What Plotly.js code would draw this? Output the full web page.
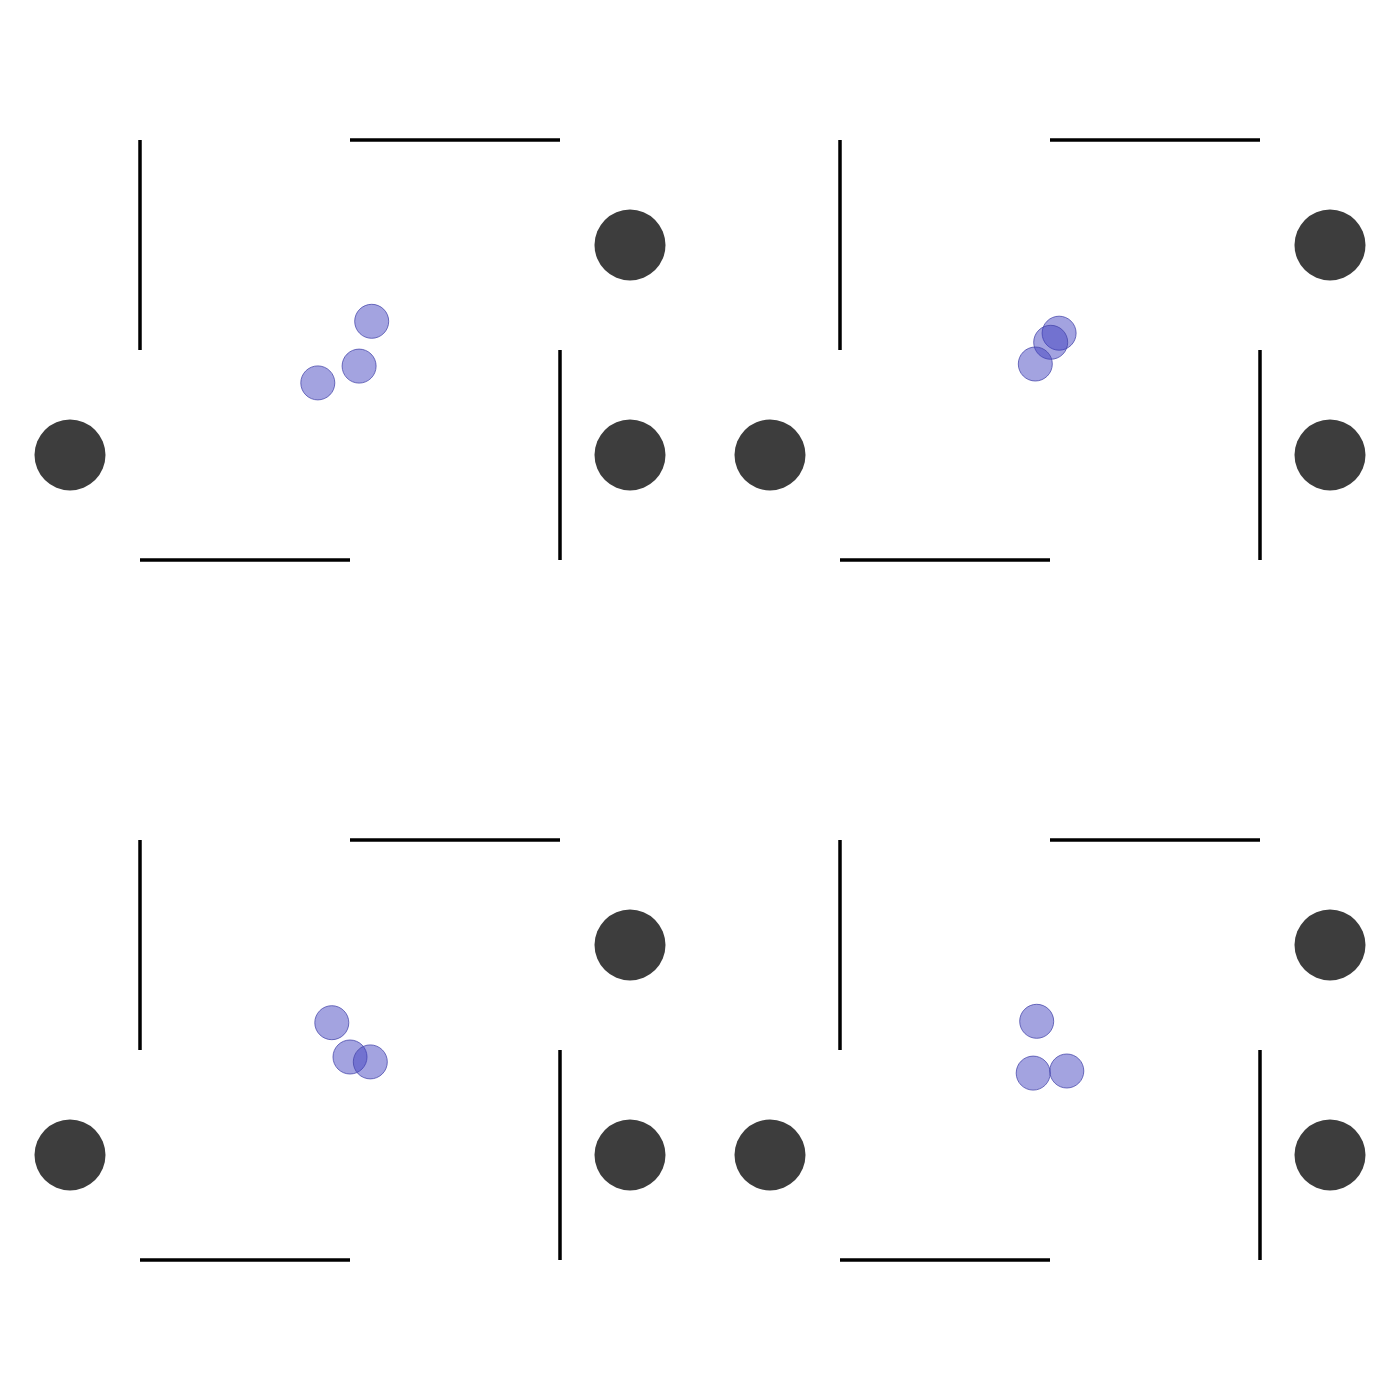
<!DOCTYPE html>
<html>
<head>
<meta charset="utf-8">
<script src="https://cdn.plot.ly/plotly-3.0.1.min.js"></script>
<style>html,body{margin:0;padding:0;background:#fff;}#chart{width:1400px;height:1400px;}</style>
</head>
<body>
<div id="chart"></div>
<script>
// Wall segments (shared by all panels): [x0, y0, x1, y1]
const wallX0 = [-3, 0, 3, -3];
const wallY0 = [3, 3, 0, -3];
const wallX1 = [-3, 3, 3, 0];
const wallY1 = [0, 3, -3, -3];

// Static obstacles (shared)
const obstacleX = [-4, 4, 4];
const obstacleY = [-1.5, -1.5, 1.5];

// Agent positions for each panel (top-left, top-right, bottom-left, bottom-right)
const agentsX_1 = [0.31, 0.13, -0.46];
const agentsY_1 = [0.41, -0.23, -0.47];
const agentsX_2 = [0.13, 0.01, -0.21];
const agentsY_2 = [0.24, 0.11, -0.20];
const agentsX_3 = [-0.26, 0.00, 0.29];
const agentsY_3 = [0.39, -0.10, -0.17];
const agentsX_4 = [-0.19, -0.24, 0.24];
const agentsY_4 = [0.41, -0.33, -0.30];

const agentsX = [agentsX_1, agentsX_2, agentsX_3, agentsX_4];
const agentsY = [agentsY_1, agentsY_2, agentsY_3, agentsY_4];

const traces = [];
const layout = {
  width: 1400, height: 1400,
  margin: {l: 0, r: 0, t: 0, b: 0},
  paper_bgcolor: '#fff', plot_bgcolor: '#fff',
  showlegend: false
};
const domains = [
  {x: [0, 0.5], y: [0.5, 1]},
  {x: [0.5, 1], y: [0.5, 1]},
  {x: [0, 0.5], y: [0, 0.5]},
  {x: [0.5, 1], y: [0, 0.5]}
];
for (let p = 0; p < 4; p++) {
  const sfx = p === 0 ? '' : String(p + 1);
  const xa = 'x' + sfx, ya = 'y' + sfx;
  const wx = [], wy = [];
  for (let i = 0; i < wallX0.length; i++) {
    wx.push(wallX0[i], wallX1[i], null);
    wy.push(wallY0[i], wallY1[i], null);
  }
  traces.push({x: wx, y: wy, xaxis: xa, yaxis: ya, mode: 'lines', type: 'scatter',
    line: {color: '#000', width: 3.5}, hoverinfo: 'skip'});
  traces.push({x: obstacleX, y: obstacleY, xaxis: xa, yaxis: ya, mode: 'markers', type: 'scatter',
    marker: {size: 71, color: '#3d3d3d', line: {width: 0}}, hoverinfo: 'skip'});
  traces.push({x: agentsX[p], y: agentsY[p], xaxis: xa, yaxis: ya, mode: 'markers', type: 'scatter',
    marker: {size: 34, color: 'rgba(60,60,190,0.47)', line: {width: 1, color: 'rgba(70,70,170,0.75)'}}, hoverinfo: 'skip'});
  const axCommon = {range: [-5, 5], showgrid: false, zeroline: false, showticklabels: false,
    showline: false, ticks: '', fixedrange: true};
  layout['xaxis' + sfx] = Object.assign({}, axCommon, {domain: domains[p].x, anchor: ya});
  layout['yaxis' + sfx] = Object.assign({}, axCommon, {domain: domains[p].y, anchor: xa});
}
Plotly.newPlot('chart', traces, layout, {displayModeBar: false, staticPlot: true});
</script>
</body>
</html>
